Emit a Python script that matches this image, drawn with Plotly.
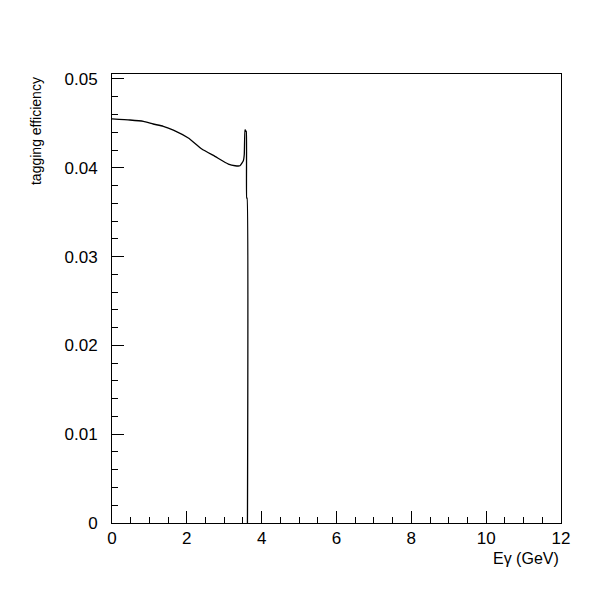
import plotly.graph_objects as go

# Photon energy (GeV) and tagging efficiency
e_gamma = [0.0, 0.48, 0.84, 1.10, 1.37, 1.64, 2.04, 2.40, 2.75, 3.11, 3.29, 3.42,
           3.51, 3.535, 3.555, 3.565, 3.58, 3.59, 3.60, 3.61, 3.62]
efficiency = [0.04550, 0.04538, 0.04523, 0.04493, 0.04467, 0.04425, 0.04335, 0.04211,
              0.04129, 0.04042, 0.04023, 0.04023, 0.04079, 0.04150, 0.04426, 0.04426,
              0.04410, 0.04410, 0.03660, 0.03660, 0.0]

x_ticks = [0, 2, 4, 6, 8, 10, 12]
y_ticks = [0, 0.01, 0.02, 0.03, 0.04, 0.05]
y_tick_labels = ["0", "0.01", "0.02", "0.03", "0.04", "0.05"]

FONT = "Liberation Sans, Arial, Helvetica, sans-serif"

fig = go.Figure()
fig.add_trace(go.Scatter(x=e_gamma, y=efficiency, mode="lines",
                         line=dict(color="black", width=1.3, shape="spline", smoothing=0.4),
                         showlegend=False))

fig.update_layout(
    width=592, height=592,
    margin=dict(l=104, r=39, t=66, b=77),
    paper_bgcolor="white", plot_bgcolor="white",
    font=dict(family=FONT, size=17, color="black"),
    xaxis=dict(range=[0, 12], tickvals=x_ticks, ticks="inside", ticklen=12,
               tickcolor="black", showgrid=False, zeroline=False, automargin=False,
               showline=True, linecolor="black", linewidth=1, mirror=True,
               minor=dict(ticks="inside", dtick=0.5, ticklen=6, tickcolor="black"),
               tickfont=dict(family=FONT, size=17)),
    yaxis=dict(range=[0, 0.05056], tickvals=y_ticks, ticktext=y_tick_labels,
               ticks="inside", ticklen=12, tickcolor="black", showgrid=False,
               zeroline=False, showline=True, linecolor="black", linewidth=1,
               mirror=True, ticklabelstandoff=10, automargin=False,
               minor=dict(ticks="inside", dtick=0.002, ticklen=6, tickcolor="black"),
               tickfont=dict(family=FONT, size=17)),
    annotations=[
        dict(text="Eγ (GeV)", xref="paper", yref="paper", x=1.0, y=-0.080,
             xanchor="right", yanchor="middle", showarrow=False,
             font=dict(family=FONT, size=16)),
        dict(text="tagging efficiency", xref="paper", yref="paper", x=-0.169, y=0.998,
             xanchor="center", yanchor="top", textangle=-90, showarrow=False,
             font=dict(family=FONT, size=14)),
    ],
)

fig.write_html("out.html")
